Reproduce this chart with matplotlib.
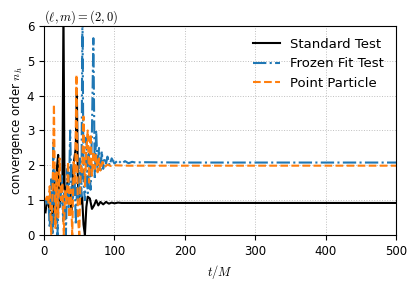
import numpy as np
import matplotlib.pyplot as plt

plt.rcParams['mathtext.fontset'] = 'cm'

# standard test
t_std = [2, 4, 6, 8, 10, 12, 14, 16, 18, 20, 22, 24, 26, 27.5, 29, 31, 33, 35, 37, 39,
         41, 43, 45, 46.5, 48, 50, 52, 54, 56, 58, 60, 62, 65, 68, 71, 74, 77, 80, 84,
         88, 92, 96, 100, 105, 110, 120, 140, 200, 300, 400, 500]
n_std = [0.65, 1.0, 0.9, 0.7, 1.2, 0.3, 1.6, 0.4, 1.9, 2.3, 0.8, 1.6, 1.3, 6.5, 1.4,
         1.2, 1.5, 0.9, 1.3, 0.6, 1.8, 2.2, 2.5, 4.2, 1.5, 1.0, 0.9, 1.1, 0.3, 0.0,
         0.8, 1.1, 1.05, 0.75, 0.85, 1.0, 0.85, 0.95, 0.88, 0.95, 0.9, 0.93, 0.91,
         0.93, 0.92, 0.92, 0.92, 0.92, 0.92, 0.92, 0.92]

# frozen fit test
t_ff = [2, 4, 6, 8, 10, 12, 13, 15, 17, 19, 21, 23, 25, 27, 29, 31, 33, 35, 37, 39,
        41, 43, 45, 47, 49, 51, 53, 54.5, 56, 58, 60, 62, 64, 66, 68, 70, 72, 74, 76,
        78, 80, 82, 84, 86, 88, 90, 93, 96, 100, 105, 110, 115, 120, 125, 130, 140,
        200, 300, 400, 500]
n_ff = [1.0, 0.9, 1.1, 0.2, 1.6, 0.0, 2.65, 0.5, 1.8, 0.0, 1.3, 0.9, 1.7, 0.4, 1.2,
        0.0, 1.9, 0.8, 3.0, 1.2, 1.0, 2.0, 0.3, 1.5, 1.0, 2.2, 1.1, 6.5, 1.5, 1.0,
        2.8, 1.2, 2.4, 1.3, 3.0, 5.65, 1.6, 3.0, 1.9, 2.5, 1.8, 2.4, 1.9, 2.2, 2.05,
        2.25, 2.0, 2.2, 2.05, 2.15, 2.05, 2.12, 2.06, 2.1, 2.08, 2.09, 2.08, 2.08,
        2.08, 2.08]

# point particle
t_pp = [2, 4, 6, 8, 10, 12, 14, 16, 18, 20, 22, 24, 26, 28, 30, 32, 34, 36, 38, 40,
        42, 44, 46, 48, 50, 52, 54, 56, 58, 60, 62, 64, 66, 68, 70, 72, 74, 76, 78,
        80, 83, 86, 90, 95, 100, 120, 200, 300, 400, 500]
n_pp = [1.0, 1.1, 0.9, 1.4, 0.0, 1.2, 3.75, 0.2, 1.8, 0.5, 2.2, 1.0, 1.5, 0.0, 1.3,
        0.9, 2.1, 0.5, 1.3, 0.0, 2.1, 1.5, 4.6, 0.5, 0.0, 2.0, 1.8, 3.4, 1.4, 2.4,
        3.0, 1.5, 2.9, 1.7, 2.4, 1.9, 2.3, 1.8, 2.2, 1.85, 2.1, 1.95, 2.02, 1.98,
        2.0, 1.99, 1.99, 1.99, 1.99, 1.99]

fig = plt.figure(figsize=(4.16, 2.84), dpi=100)
ax = fig.add_axes([0.106, 0.1725, 0.846, 0.736])

ax.plot(t_std, n_std, '-', color='black', lw=1.5, label='Standard Test')
ax.plot(t_ff, n_ff, '-.', color='#1f77b4', lw=1.5, label='Frozen Fit Test')
ax.plot(t_pp, n_pp, '--', color='#ff7f0e', lw=1.5, label='Point Particle')

ax.set_xlim(0, 500)
ax.set_ylim(0, 6)
ax.grid(True, ls=':', color='0.75', lw=0.7)
ax.tick_params(labelsize=8.5)
ax.set_xlabel('$t/M$', fontsize=9)
ax.set_ylabel('convergence order $n_h$', fontsize=8.5, labelpad=1)
ax.set_title(r'$(\ell,m)=(2,0)$', loc='left', fontsize=9, pad=3)
ax.legend(loc='upper right', frameon=False, fontsize=9.5)

fig.savefig('out.png', dpi=100)
